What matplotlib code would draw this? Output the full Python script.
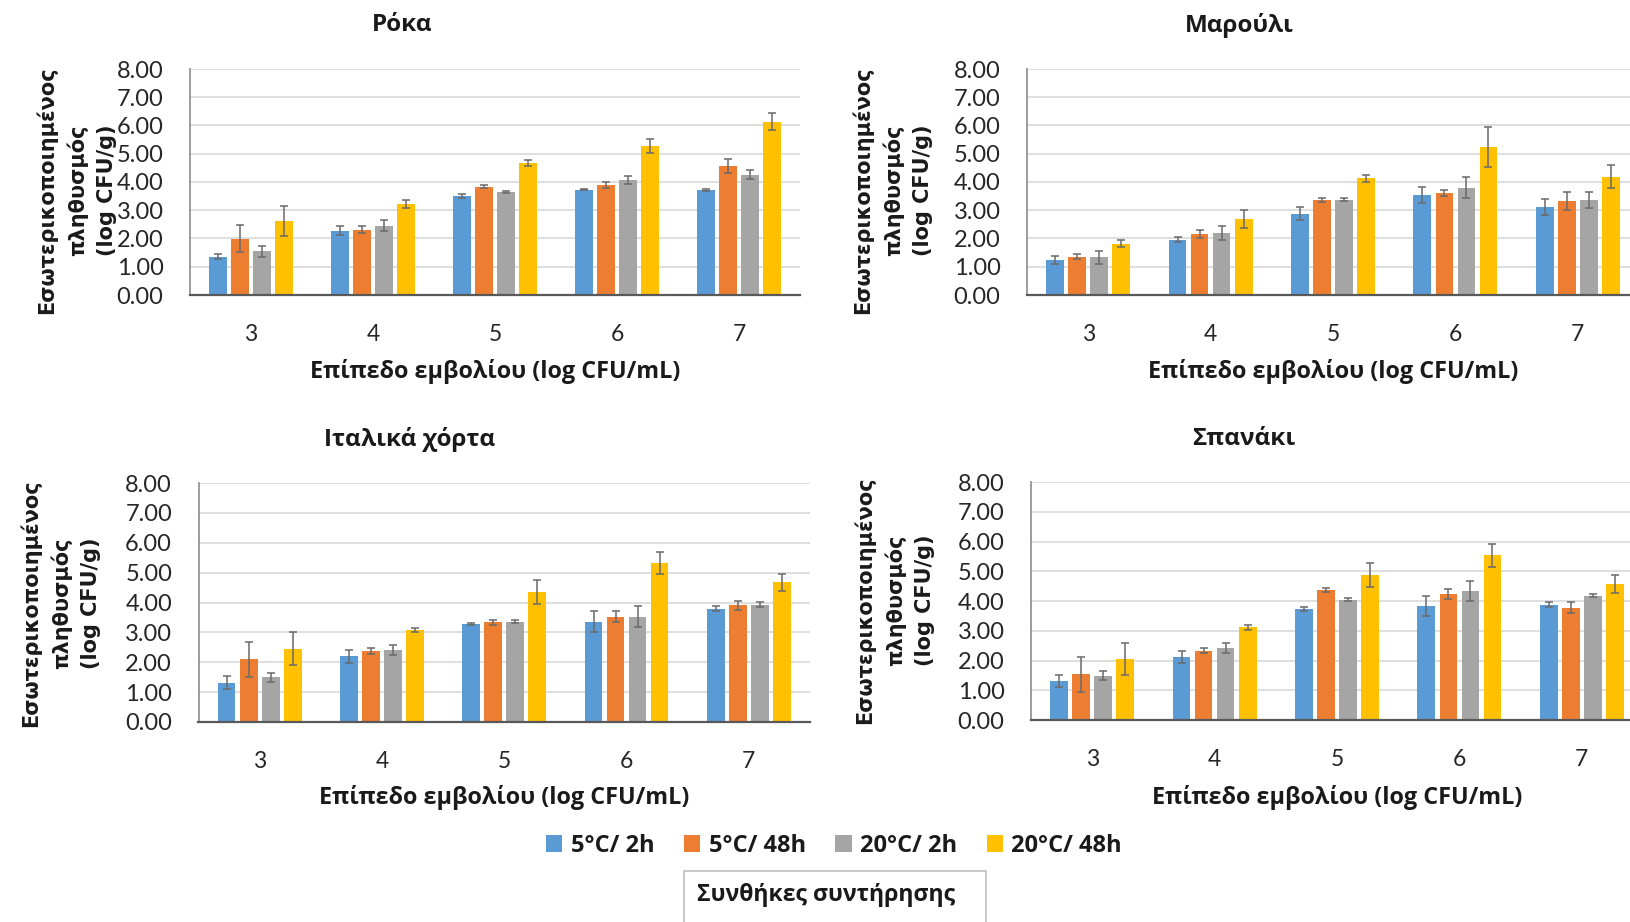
import matplotlib
matplotlib.use('Agg')
import matplotlib.pyplot as plt
import numpy as np
from matplotlib.patches import Rectangle, Patch
from matplotlib import font_manager as fm

# ---------------- data ----------------
categories = ['3', '4', '5', '6', '7']
series_labels = ['5°C/ 2h', '5°C/ 48h', '20°C/ 2h', '20°C/ 48h']
colors = ['#5B9BD5', '#ED7D31', '#A5A5A5', '#FFC000']

titles = ['Ρόκα', 'Μαρούλι', 'Ιταλικά χόρτα', 'Σπανάκι']
xlabel_text = 'Επίπεδο εμβολίου (log CFU/mL)'
ylabel_text = 'Εσωτερικοποιημένος\nπληθυσμός\n(log CFU/g)'
legend_title = 'Συνθήκες συντήρησης'
yticks = [0, 1, 2, 3, 4, 5, 6, 7, 8]

roka_mean = [[1.35, 2.28, 3.50, 3.72, 3.72],
             [1.99, 2.31, 3.83, 3.89, 4.57],
             [1.55, 2.46, 3.64, 4.07, 4.26],
             [2.62, 3.23, 4.67, 5.28, 6.13]]
roka_err = [[0.09, 0.15, 0.07, 0.02, 0.03],
            [0.48, 0.13, 0.05, 0.12, 0.24],
            [0.20, 0.20, 0.04, 0.14, 0.17],
            [0.53, 0.15, 0.10, 0.24, 0.30]]

marouli_mean = [[1.23, 1.95, 2.88, 3.54, 3.11],
                [1.35, 2.15, 3.36, 3.60, 3.33],
                [1.33, 2.19, 3.38, 3.80, 3.36],
                [1.82, 2.69, 4.13, 5.24, 4.19]]
marouli_err = [[0.15, 0.09, 0.23, 0.28, 0.29],
               [0.09, 0.14, 0.08, 0.10, 0.31],
               [0.22, 0.25, 0.07, 0.37, 0.28],
               [0.11, 0.33, 0.12, 0.72, 0.40]]

italika_mean = [[1.31, 2.20, 3.27, 3.36, 3.79],
                [2.10, 2.38, 3.34, 3.53, 3.90],
                [1.50, 2.41, 3.36, 3.53, 3.93],
                [2.46, 3.08, 4.36, 5.32, 4.67]]
italika_err = [[0.22, 0.21, 0.03, 0.34, 0.08],
               [0.59, 0.10, 0.09, 0.17, 0.16],
               [0.15, 0.17, 0.04, 0.34, 0.08],
               [0.54, 0.08, 0.40, 0.37, 0.30]]

spanaki_mean = [[1.31, 2.13, 3.74, 3.83, 3.87],
                [1.53, 2.33, 4.38, 4.25, 3.77],
                [1.49, 2.42, 4.05, 4.33, 4.18],
                [2.05, 3.11, 4.88, 5.53, 4.56]]
spanaki_err = [[0.21, 0.20, 0.06, 0.33, 0.08],
               [0.60, 0.08, 0.07, 0.17, 0.18],
               [0.16, 0.16, 0.04, 0.33, 0.05],
               [0.55, 0.07, 0.40, 0.38, 0.30]]

panel_means = [roka_mean, marouli_mean, italika_mean, spanaki_mean]
panel_errs = [roka_err, marouli_err, italika_err, spanaki_err]

# ---------------- fonts ----------------
def has_bold(name):
    for f in fm.fontManager.ttflist:
        if f.name == name:
            w = f.weight
            if isinstance(w, str):
                if w.lower() in ('bold', 'demibold', 'semibold', 'heavy', 'extra bold', 'black'):
                    return True
            elif w >= 600:
                return True
    return False

BOLD_FAM = 'DejaVu Sans'
for cand in ['Open Sans', 'Roboto', 'Noto Sans', 'Liberation Sans']:
    if has_bold(cand):
        BOLD_FAM = cand
        break

SANS = ['Lato', 'DejaVu Sans']
BOLD = [BOLD_FAM, 'DejaVu Sans']
YL = ['DejaVu Sans']

# ---------------- layout (pixels) ----------------
W, H = 1630, 922
fig = plt.figure(figsize=(W / 100, H / 100), dpi=100)
fig.patch.set_facecolor('white')

# (left, right, top, bottom) pixel boxes of plot areas
boxes = [(190, 800, 69, 295),
         (1027, 1639, 69, 295),
         (198.5, 810, 483, 722),
         (1031, 1643, 482, 720)]
title_pos = [(402, 25), (1239, 25), (410, 440), (1244, 439)]
ylabel_pos = [(76, 190), (892, 190), (60, 603), (894, 600)]
xlabel_y = [371, 371, 798, 798]

def fx(px):
    return px / W

def fy(py):
    return 1 - py / H

bar_w = 0.145
pitch = 0.18
x = np.arange(len(categories))

for k in range(4):
    l, r, t, b = boxes[k]
    ax = fig.add_axes([fx(l), fy(b), (r - l) / W, (b - t) / H])
    ax.set_facecolor('white')
    for i in range(4):
        ax.bar(x + (i - 1.5) * pitch, panel_means[k][i], width=bar_w,
               color=colors[i], zorder=3,
               yerr=panel_errs[k][i],
               error_kw=dict(ecolor='#6a6a6a', elinewidth=1.1, capsize=3,
                             capthick=1.1, zorder=4))
    ax.set_xlim(-0.5, len(categories) - 0.5)
    ax.set_ylim(0, 8)
    ax.set_yticks(yticks)
    ax.set_yticklabels([f'{v:.2f}' for v in yticks], family=SANS, fontsize=17)
    ax.set_xticks(x)
    ax.set_xticklabels(categories, family=SANS, fontsize=16.5)
    ax.tick_params(axis='y', length=0, pad=19, colors='#262626')
    ax.tick_params(axis='x', length=0, pad=21, colors='#262626')
    ax.yaxis.grid(True, color='#D9D9D9', linewidth=1.2, zorder=0)
    ax.set_axisbelow(True)
    for s in ['top', 'right']:
        ax.spines[s].set_visible(False)
    ax.spines['left'].set_color('#8C8C8C')
    ax.spines['left'].set_linewidth(1.2)
    ax.spines['bottom'].set_color('#595959')
    ax.spines['bottom'].set_linewidth(1.6)
    ax.spines['bottom'].set_zorder(5)

    # titles and axis labels
    tx, ty = title_pos[k]
    fig.text(fx(tx), fy(ty), titles[k], ha='center', va='center',
             family=BOLD, fontsize=17.5, fontweight='bold', color='#1a1a1a')
    fig.text(fx((l + r) / 2), fy(xlabel_y[k]),
             xlabel_text, ha='center', va='center', family=BOLD,
             fontsize=16.8, fontweight='bold', color='#1a1a1a')
    yx, yy = ylabel_pos[k]
    fig.text(fx(yx), fy(yy), ylabel_text, rotation=90, ha='center', va='center',
             multialignment='center', family=YL, fontsize=15,
             fontweight='bold', color='#1a1a1a', linespacing=1.55)

# legend
handles = [Patch(facecolor=c, edgecolor='none') for c in colors]
leg = fig.legend(handles, series_labels, loc='center', ncol=4,
                 bbox_to_anchor=(fx(834), fy(846)), frameon=False,
                 handlelength=0.7, handleheight=0.7, handletextpad=0.35,
                 columnspacing=1.25,
                 prop=dict(family=BOLD, size=17, weight='bold'))
for txt in leg.get_texts():
    txt.set_color('#1a1a1a')

# legend title box
rect = Rectangle((fx(684), fy(930)), fx(986) - fx(684), fy(871) - fy(930),
                 transform=fig.transFigure, facecolor='white',
                 edgecolor='#BFBFBF', linewidth=1.2)
fig.patches.append(rect)
fig.text(fx(826), fy(895), legend_title, ha='center', va='center',
         family=BOLD, fontsize=16.6, fontweight='bold', color='#1a1a1a')

fig.savefig('out.png', dpi=100)
